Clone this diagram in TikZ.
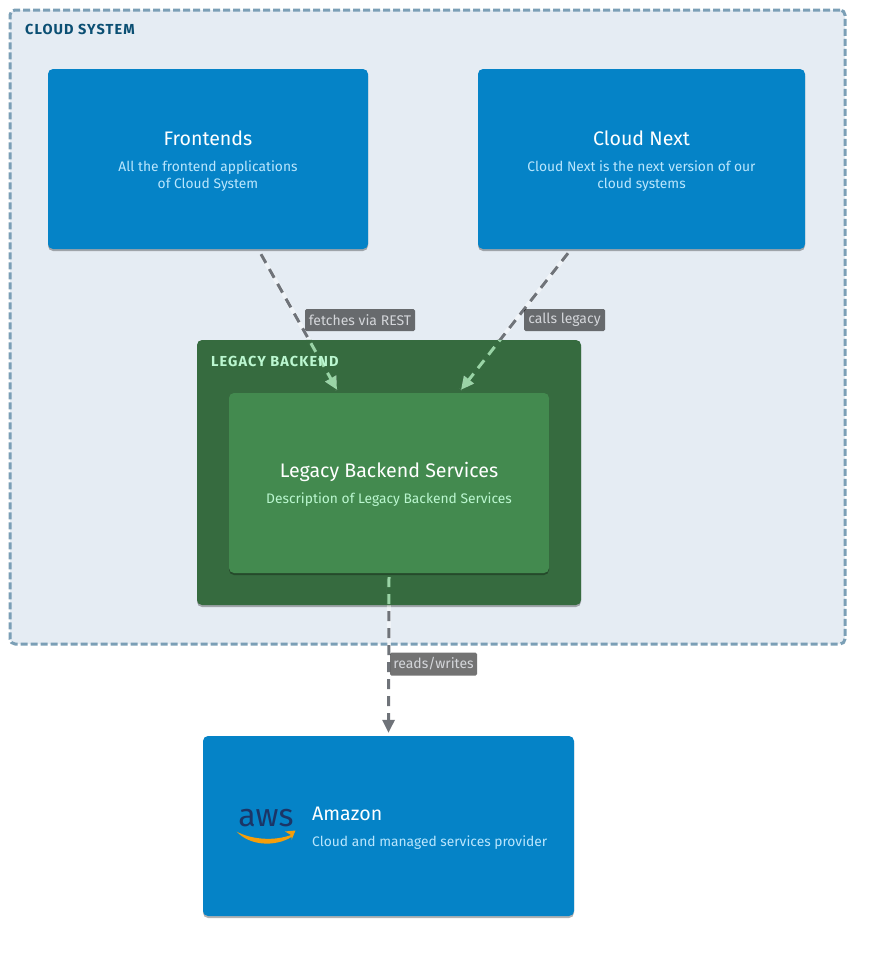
\documentclass[tikz,border=0pt]{standalone}
\usepackage{fontspec}
\setmainfont{Fira Sans}
\usepackage{xcolor}
\usetikzlibrary{arrows.meta,shadows}
\definecolor{sysblue}{HTML}{0583C7}
\definecolor{cloudbg}{HTML}{E5ECF3}
\definecolor{cloudline}{HTML}{7B9FB6}
\definecolor{cloudtext}{HTML}{0B4F73}
\definecolor{bluedesc}{HTML}{BAE6FD}
\definecolor{legacyout}{HTML}{366B3F}
\definecolor{legacyin}{HTML}{438A4F}
\definecolor{greendesc}{HTML}{BBF7D0}
\definecolor{flowgray}{HTML}{6F7379}
\definecolor{flowgreen}{HTML}{9AD4A6}
\definecolor{labeltext}{HTML}{D4D6DA}
\definecolor{awsnavy}{HTML}{1B3567}
\definecolor{awsorange}{HTML}{F59E0B}
\newcommand{\boxhead}[1]{{\color{white}\fontsize{19.6}{24}\selectfont\rule{0pt}{18pt}#1}}

\begin{document}
\begin{tikzpicture}[
    x=1pt, y=-1pt,
    line join=round,
    softshadow/.style={general shadow={fill=black,opacity=0.3,shadow xshift=0pt,shadow yshift=-2pt}},
    groupbox/.style={rectangle, rounded corners=5pt, inner sep=0pt},
    sysbox/.style={groupbox, fill=sysblue, softshadow, text=bluedesc, align=center,
      font=\fontsize{13.8}{17}\selectfont},
    grouptitle/.style={anchor=west, inner sep=0pt,
      font=\fontsize{14.5}{16}\bfseries\selectfont\addfontfeature{LetterSpace=7.5}},
    edgelabel/.style={rectangle, rounded corners=1.5pt, fill=black, fill opacity=0.55, text opacity=1,
      text=labeltext, inner sep=0pt, minimum height=22pt, font=\fontsize{14}{15}\selectfont},
    flowhalo/.style={white, opacity=0.45, line width=4pt},
    flowline/.style={line width=3pt, dash pattern=on 10pt off 7pt,
      -{Triangle[length=13pt,width=12pt]}},
  ]
  \useasboundingbox (0,0) rectangle (894,956);

  % ---------- cloud system group ----------
  \node[groupbox, minimum width=835pt, minimum height=634pt, fill=cloudbg, draw=cloudline,
    line width=3pt, dash pattern=on 7pt off 3pt] (cloudsys) at (427.5,327) {};
  \node[grouptitle, text=cloudtext] (cloudtitle) at (25,29.5) {CLOUD SYSTEM};

  % ---------- containers ----------
  \node[sysbox, minimum width=320pt, minimum height=180pt] (frontends) at (208,159)
    {\boxhead{Frontends}\\[9pt] All the frontend applications\\ of Cloud System};
  \node[sysbox, minimum width=327pt, minimum height=180pt] (cloudnext) at (641.5,159)
    {\boxhead{Cloud Next}\\[9pt] Cloud Next is the next version of our\\ cloud systems};

  % ---------- legacy backend group ----------
  \node[groupbox, minimum width=384pt, minimum height=265pt, fill=legacyout, softshadow] (legacy) at (389,472.5) {};
  \node[sysbox, minimum width=320pt, minimum height=180pt, fill=legacyin, text=greendesc] (services) at (389,483)
    {\boxhead{Legacy Backend Services}\\[9pt] Description of Legacy Backend Services};

  % ---------- amazon ----------
  \node[sysbox, minimum width=371pt, minimum height=180pt] (amazon) at (388.5,826) {};
  \node[anchor=west, inner sep=0pt, align=left, text=bluedesc, font=\fontsize{13.8}{17}\selectfont] (amazontext) at (312,826)
    {\boxhead{Amazon}\\[9pt] Cloud and managed services provider};
  \node[inner sep=0pt, text=awsnavy, font=\fontsize{32}{33}\selectfont] (awslogo) at (266,818) {aws};
  \fill[awsorange] (236.5,831.5) .. controls (252,840) and (275,841) .. (291,835)
    -- (285,831.5) -- (295.5,830.5) -- (291.5,840) -- (291.5,837)
    .. controls (275,847) and (250,846) .. cycle;

  % ---------- connectors ----------
  \coordinate (fetchstart) at ([xshift=53pt,yshift=-5pt]frontends.south);
  \coordinate (fetchend) at ([xshift=-52pt,yshift=3pt]services.north);
  \coordinate (callstart) at ([xshift=-73.5pt,yshift=-4pt]cloudnext.south);
  \coordinate (callend) at ([xshift=72pt,yshift=3pt]services.north);
  \coordinate (readstart) at ([yshift=-4pt]services.south);
  \coordinate (readend) at ([yshift=3pt]amazon.north);
  \foreach \a/\b in {fetchstart/fetchend,callstart/callend,readstart/readend}{
    \draw[flowhalo] (\a) -- (\b);
    \draw[flowline, flowgray] (\a) -- (\b);
    \begin{scope}
      \clip[rounded corners=5pt] (legacy.south west) rectangle (legacy.north east);
      \draw[line width=5pt, legacyout] (\a) -- (\b);
      \draw[flowline, flowgreen] (\a) -- (\b);
    \end{scope}
  }
  \node[grouptitle, text=greendesc] (legacytitle) at (211,361) {LEGACY BACKEND};

  % ---------- connector labels ----------
  \node[edgelabel, minimum width=110pt] (fetcheslabel) at (360,320) {fetches via REST};
  \node[edgelabel, minimum width=81pt] (callslabel) at (564.5,320) {calls legacy};
  \node[edgelabel, minimum width=87pt, minimum height=23pt] (readslabel) at (433.5,664) {reads/writes};
\end{tikzpicture}
\end{document}
